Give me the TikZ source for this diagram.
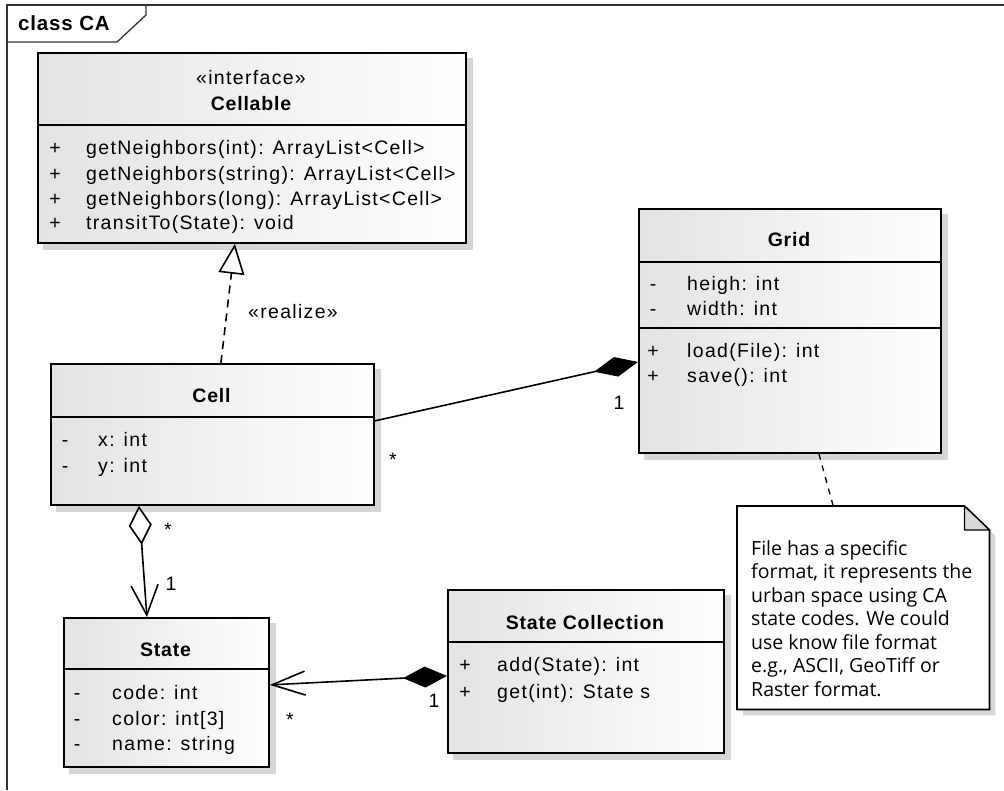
\documentclass[tikz,border=0pt]{standalone}
\usepackage{fontspec}
\usetikzlibrary{arrows.meta,backgrounds}
\newfontfamily\umlfont[LetterSpace=6.8]{Liberation Sans}
\newfontfamily\umltitle[LetterSpace=4]{Liberation Sans}
\newfontfamily\notefont{Open Sans}

\tikzset{
  classbox/.style={draw, line width=1.8pt, left color=black!11, right color=white,
    anchor=north west, inner sep=0pt},
  classname/.style={font=\umltitle\bfseries\fontsize{19.5}{23}\selectfont,
    text height=14pt, text depth=0pt, inner sep=0pt},
  member/.style={font=\umlfont\fontsize{19.5}{23}\selectfont,
    text height=14pt, text depth=0pt, inner sep=0pt, anchor=west},
  mult/.style={font=\umlfont\fontsize{19.5}{23}\selectfont, inner sep=0pt, anchor=base},
  notetext/.style={font=\notefont\fontsize{19.5}{23.5}\selectfont, inner sep=0pt, anchor=base west},
  divider/.style={line width=1.4pt},
  link/.style={line width=1.6pt},
}

\begin{document}
\begin{tikzpicture}[x=1pt, y=-1pt]
    \useasboundingbox (0,0) rectangle (1004,790);

    % Frame
    \draw[line width=1.3pt, black!80] (1004,5) -- (7,5) -- (7,790);
    \draw[line width=1.3pt, black!80] (7,42) -- (117,42) -- (146,15) -- (146,5);
    \node[classname, anchor=west, font=\umltitle\bfseries\fontsize{20.5}{23}\selectfont] (frameLabel) at (18,23) {class CA};

    % Cellable
    \node[classbox, minimum width=428pt, minimum height=190pt] (cellable) at (37,52) {};
    \draw[divider] (cellable.west |- 0,125) -- (cellable.east |- 0,125);
    \node[member, anchor=center] (cellableStereo) at (251,77) {«interface»};
    \node[classname] (cellableName) at (251,103) {Cellable};
    \node[member, anchor=center] (cellableVis1) at (55,147) {+};
    \node[member, anchor=center] (cellableVis2) at (55,173) {+};
    \node[member, anchor=center] (cellableVis3) at (55,198) {+};
    \node[member, anchor=center] (cellableVis4) at (55,222) {+};
    \node[member] (cellableOp1) at (86,147) {getNeighbors(int): ArrayList<Cell>};
    \node[member] (cellableOp2) at (86,173) {getNeighbors(string): ArrayList<Cell>};
    \node[member] (cellableOp3) at (86,198) {getNeighbors(long): ArrayList<Cell>};
    \node[member] (cellableOp4) at (86,222) {transitTo(State): void};

    % Grid
    \node[classbox, minimum width=302pt, minimum height=244pt] (grid) at (638,208) {};
    \draw[divider] (grid.west |- 0,262) -- (grid.east |- 0,262);
    \draw[divider] (grid.west |- 0,328) -- (grid.east |- 0,328);
    \node[classname] (gridName) at (789,239) {Grid};
    \node[member, anchor=center] (gridVis1) at (653,283) {-};
    \node[member, anchor=center] (gridVis2) at (653,308) {-};
    \node[member, anchor=center] (gridVis3) at (653,350) {+};
    \node[member, anchor=center] (gridVis4) at (653,375) {+};
    \node[member] (gridAttr1) at (687,283) {heigh: int};
    \node[member] (gridAttr2) at (687,308) {width: int};
    \node[member] (gridOp1) at (687,350) {load(File): int};
    \node[member] (gridOp2) at (687,375) {save(): int};

    % Cell
    \node[classbox, minimum width=323pt, minimum height=141pt] (cell) at (50,363) {};
    \draw[divider] (cell.west |- 0,417) -- (cell.east |- 0,417);
    \node[classname] (cellName) at (211.5,395) {Cell};
    \node[member, anchor=center] (cellVis1) at (65,439) {-};
    \node[member, anchor=center] (cellVis2) at (65,465) {-};
    \node[member] (cellAttr1) at (98,439) {x: int};
    \node[member] (cellAttr2) at (98,465) {y: int};

    % State
    \node[classbox, minimum width=205pt, minimum height=149pt] (state) at (63,617) {};
    \draw[divider] (state.west |- 0,669) -- (state.east |- 0,669);
    \node[classname] (stateName) at (165.5,649) {State};
    \node[member, anchor=center] (stateVis1) at (77,692) {-};
    \node[member, anchor=center] (stateVis2) at (77,718) {-};
    \node[member, anchor=center] (stateVis3) at (77,743) {-};
    \node[member] (stateAttr1) at (112,692) {code: int};
    \node[member] (stateAttr2) at (112,718) {color: int[3]};
    \node[member] (stateAttr3) at (112,743) {name: string};

    % State Collection
    \node[classbox, minimum width=276pt, minimum height=163pt] (stateColl) at (447,589) {};
    \draw[divider] (stateColl.west |- 0,642) -- (stateColl.east |- 0,642);
    \node[classname] (stateCollName) at (585,622) {State Collection};
    \node[member, anchor=center] (stateCollVis1) at (465,664) {+};
    \node[member, anchor=center] (stateCollVis2) at (465,691) {+};
    \node[member] (stateCollOp1) at (497,664) {add(State): int};
    \node[member] (stateCollOp2) at (497,691) {get(int): State s};

    % Shadows behind the classes
    \begin{scope}[on background layer]
      \foreach \n in {cellable,grid,cell,state,stateColl}
        \fill[black!16] ([shift={(6pt,-6pt)}]\n.south west) rectangle ([shift={(6pt,-6pt)}]\n.north east);
    \end{scope}

    % Note
    \node[minimum width=252pt, minimum height=203pt, anchor=north west, inner sep=0pt] (note) at (737,506) {};
    \fill[black!16] ([shift={(6pt,-6pt)}]note.north west) -- ([shift={(-19pt,-6pt)}]note.north east)
        -- ([shift={(6pt,-30pt)}]note.north east) -- ([shift={(6pt,-6pt)}]note.south east)
        -- ([shift={(6pt,-6pt)}]note.south west) -- cycle;
    \draw[line width=1.8pt, fill=white] (note.north west) -- ([xshift=-25pt]note.north east)
        -- ([yshift=-24pt]note.north east) -- (note.south east) -- (note.south west) -- cycle;
    \filldraw[line width=1.2pt, fill=black!15] ([xshift=-25pt]note.north east)
        -- ([xshift=-25pt,yshift=-24pt]note.north east) -- ([yshift=-24pt]note.north east) -- cycle;
    \foreach \line [count=\i from 0] in {File has a specific, {format, it represents the},
        urban space using CA, state codes. We could, use know file format,
        {e.g., ASCII, GeoTiff or}, Raster format.}
      \node[notetext] (noteLine\i) at (751,{555+23.5*\i}) {\line};

    % Cell realizes Cellable
    \draw[link, dash pattern=on 8pt off 6pt, -{Triangle[open,length=30pt,width=26pt]}]
        ([xshift=8.5pt]cell.north) -- ([xshift=-17pt]cellable.south);
    \node[member, anchor=center] (realizeLabel) at (293,311) {«realize»};

    % Grid is composed of Cells
    \draw[link, -{Diamond[length=45pt,width=20pt]}] ([yshift=13.5pt]cell.east) -- ([yshift=-31pt]grid.west);
    \node[mult] (cellGridMult) at (393,466) {*};
    \node[mult] (gridCellMult) at (619,409) {1};

    % Cell aggregates State
    \draw[link, {Diamond[open,length=39pt,width=23pt]}-{Straight Barb[length=30pt,width=27pt]}]
        ([xshift=-73.5pt]cell.south) -- ([xshift=-19.5pt]state.north);
    \node[mult] (cellStateMult) at (168,536) {*};
    \node[mult] (stateCellMult) at (171,590) {1};

    % State Collection holds States
    \draw[link, {Straight Barb[length=33pt,width=24pt]}-{Diamond[length=44pt,width=21pt]}]
        ([yshift=7.5pt]state.east) -- ([yshift=-4.5pt]stateColl.west);
    \node[mult] (stateCollMult) at (434,707) {1};
    \node[mult] (stateMult) at (290,726) {*};

    % Note anchor
    \draw[line width=1.3pt, dash pattern=on 6pt off 6pt] ([xshift=29pt]grid.south) -- ([xshift=-30pt]note.north);
\end{tikzpicture}
\end{document}
